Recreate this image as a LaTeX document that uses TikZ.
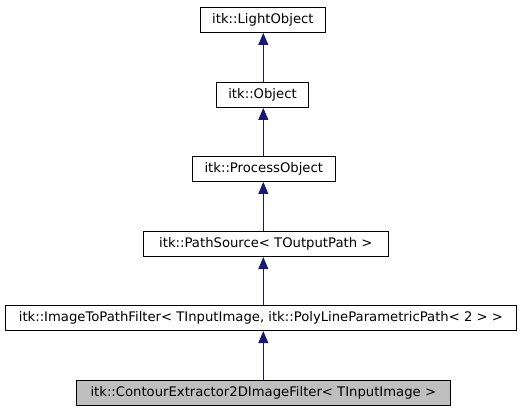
\documentclass[tikz,border=0pt]{standalone}
\usepackage{fontspec}
\setmainfont{DejaVu Sans}
\usetikzlibrary{arrows.meta}
\definecolor{edgeblue}{HTML}{191970}
\definecolor{boxgray}{HTML}{BFBFBF}
\tikzset{
  cls/.style={draw=black, line width=0.8pt, fill=white, minimum height=25.5pt, inner sep=0pt, font=\fontsize{13.2}{15}\selectfont, anchor=center},
  cur/.style={cls, fill=boxgray},
  inh/.style={draw=edgeblue, line width=0.9pt, -{Triangle[length=12pt,width=10pt]}}
}
\begin{document}
\begin{tikzpicture}[x=1pt,y=-1pt]
\useasboundingbox (0,0) rectangle (525,411);
\coordinate (ax) at (263.3,0);
\node[cls, minimum width=125.7pt] (lo) at (262.9,19.8) {itk::LightObject};
\node[cls, minimum width=91.6pt] (ob) at (262.5,94.8) {itk::Object};
\node[cls, minimum width=143pt] (po) at (263.8,168.8) {itk::ProcessObject};
\node[cls, minimum width=245pt] (ps) at (265.8,244) {itk::PathSource< TOutputPath >};
\node[cls, minimum width=511.7pt] (ip) at (260.9,318) {itk::ImageToPathFilter< TInputImage, itk::PolyLineParametricPath< 2 > >};
\node[cur, minimum width=373.3pt] (ce) at (263.3,393) {itk::ContourExtractor2DImageFilter< TInputImage >};
\draw[inh] (ob.north -| ax) -- (lo.south -| ax);
\draw[inh] (po.north -| ax) -- (ob.south -| ax);
\draw[inh] (ps.north -| ax) -- (po.south -| ax);
\draw[inh] (ip.north -| ax) -- (ps.south -| ax);
\draw[inh] (ce.north -| ax) -- (ip.south -| ax);
\end{tikzpicture}
\end{document}
